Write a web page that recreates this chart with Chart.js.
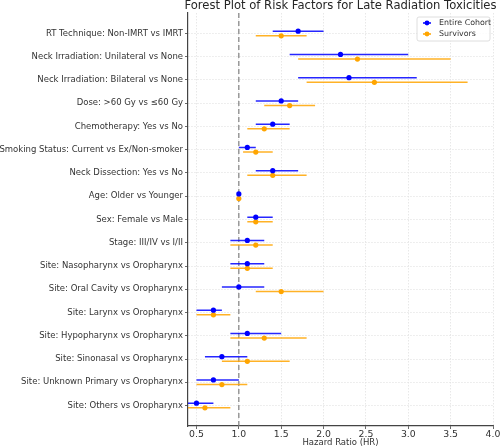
<!DOCTYPE html>
<html>
<head>
<meta charset="utf-8">
<script src="https://cdn.jsdelivr.net/npm/chart.js@4.4.0/dist/chart.umd.min.js"></script>
<style>
	html, body { margin: 0; padding: 0; background: #fff; }
	#wrap { width: 500px; height: 448px; }
</style>
</head>
<body>
<div id="wrap"><canvas id="myChart" width="500" height="448"></canvas></div>
<script>
const categories = [
	'RT Technique: Non-IMRT vs IMRT',
	'Neck Irradiation: Unilateral vs None',
	'Neck Irradiation: Bilateral vs None',
	'Dose: >60 Gy vs ≤60 Gy',
	'Chemotherapy: Yes vs No',
	'Smoking Status: Current vs Ex/Non-smoker',
	'Neck Dissection: Yes vs No',
	'Age: Older vs Younger',
	'Sex: Female vs Male',
	'Stage: III/IV vs I/II',
	'Site: Nasopharynx vs Oropharynx',
	'Site: Oral Cavity vs Oropharynx',
	'Site: Larynx vs Oropharynx',
	'Site: Hypopharynx vs Oropharynx',
	'Site: Sinonasal vs Oropharynx',
	'Site: Unknown Primary vs Oropharynx',
	'Site: Others vs Oropharynx',
];

const cohortHR = [1.7, 2.2, 2.3, 1.5, 1.4, 1.1, 1.4, 1.0, 1.2, 1.1, 1.1, 1.0, 0.7, 1.1, 0.8, 0.7, 0.5];
const cohortLow = [1.4, 1.6, 1.7, 1.2, 1.2, 1.0, 1.2, 0.99, 1.1, 0.9, 0.9, 0.8, 0.5, 0.9, 0.6, 0.5, 0.4];
const cohortHigh = [2.0, 3.0, 3.1, 1.7, 1.6, 1.2, 1.7, 1.01, 1.4, 1.3, 1.3, 1.3, 0.8, 1.5, 1.1, 1.0, 0.7];

const survHR = [1.5, 2.4, 2.6, 1.6, 1.3, 1.2, 1.4, 1.0, 1.2, 1.2, 1.1, 1.5, 0.7, 1.3, 1.1, 0.8, 0.6];
const survLow = [1.2, 1.7, 1.8, 1.3, 1.1, 1.05, 1.1, 0.99, 1.1, 0.9, 0.9, 1.2, 0.5, 0.9, 0.8, 0.5, 0.4];
const survHigh = [1.8, 3.5, 3.7, 1.9, 1.6, 1.4, 1.8, 1.01, 1.4, 1.4, 1.4, 2.0, 0.9, 1.8, 1.6, 1.1, 0.9];

const xTicks = [0.5, 1.0, 1.5, 2.0, 2.5, 3.0, 3.5, 4.0];
const refLine = 1.0;

const BLUE = '#0000ff';
const ORANGE = '#ffa500';
const FONT = 'DejaVu Sans';

const rowShift = 0.1;

const pointsOf = (hr, shift) => hr.map((v, i) => ({ x: v, y: i + shift }));

const ciOf = (low, high, shift) => {
	let data = [];
	low.map((lo, i) => {
		data.push({ x: lo, y: i + shift });
		data.push({ x: high[i], y: i + shift });
		data.push({ x: null, y: null });
	});
	return data;
};

const yMin = -0.88;
const yMax = categories.length - 1 + 0.88;

const titlePlugin = {
	id: 'titleAndLegend',
	afterDraw(chart) {
		const { ctx, chartArea } = chart;
		ctx.save();
		// title over the axes
		ctx.fillStyle = '#262626';
		ctx.font = `11.6px "${FONT}"`;
		ctx.textAlign = 'center';
		ctx.textBaseline = 'middle';
		ctx.fillText('Forest Plot of Risk Factors for Late Radiation Toxicities', (chartArea.left + chartArea.right) / 2, 6);

		// legend box, top right inside the axes
		const bx = 417, by = 17, bw = 73, bh = 24;
		ctx.fillStyle = 'rgba(255,255,255,0.85)';
		ctx.strokeStyle = '#d6d6d6';
		ctx.lineWidth = 0.8;
		ctx.beginPath();
		ctx.roundRect(bx, by, bw, bh, 2);
		ctx.fill();
		ctx.stroke();

		const items = [
			{ label: 'Entire Cohort', color: BLUE },
			{ label: 'Survivors', color: ORANGE },
		];
		items.map((item, i) => {
			const cy = by + 6 + i * 11;
			ctx.strokeStyle = item.color;
			ctx.lineWidth = 1.5;
			ctx.beginPath();
			ctx.moveTo(bx + 6, cy);
			ctx.lineTo(bx + 14, cy);
			ctx.stroke();
			ctx.fillStyle = item.color;
			ctx.beginPath();
			ctx.arc(bx + 10, cy, 2.4, 0, Math.PI * 2);
			ctx.fill();
			ctx.fillStyle = '#333';
			ctx.font = `7.9px "${FONT}"`;
			ctx.textAlign = 'left';
			ctx.textBaseline = 'middle';
			ctx.fillText(item.label, bx + 22, cy);
		});
		ctx.restore();
	},
};

const ctx = document.getElementById('myChart').getContext('2d');
const myChart = new Chart(ctx, {
	type: 'scatter',
	data: {
		datasets: [
			{
				label: 'Entire Cohort',
				data: pointsOf(cohortHR, -rowShift),
				backgroundColor: BLUE,
				borderColor: BLUE,
				pointRadius: 2.6,
				pointBorderWidth: 0,
				order: 0,
			},
			{
				label: 'Survivors',
				data: pointsOf(survHR, rowShift),
				backgroundColor: ORANGE,
				borderColor: ORANGE,
				pointRadius: 2.6,
				pointBorderWidth: 0,
				order: 1,
			},
			{
				label: 'Entire Cohort CI',
				data: ciOf(cohortLow, cohortHigh, -rowShift),
				showLine: true,
				spanGaps: false,
				borderColor: 'rgba(0,0,255,0.85)',
				borderWidth: 1.5,
				pointRadius: 0,
				order: 2,
			},
			{
				label: 'Survivors CI',
				data: ciOf(survLow, survHigh, rowShift),
				showLine: true,
				spanGaps: false,
				borderColor: 'rgba(255,165,0,0.85)',
				borderWidth: 1.5,
				pointRadius: 0,
				order: 3,
			},
			{
				label: 'HR = 1',
				data: [
					{ x: refLine, y: yMin },
					{ x: refLine, y: yMax },
				],
				showLine: true,
				borderColor: '#808080',
				borderWidth: 1.2,
				borderDash: [5, 3],
				pointRadius: 0,
				order: 4,
			},
		],
	},
	options: {
		animation: false,
		responsive: false,
		layout: { padding: { top: 13, left: 0, right: 0, bottom: 0 } },
		plugins: {
			legend: { display: false },
			title: { display: false },
			tooltip: { enabled: false },
		},
		scales: {
			x: {
				type: 'linear',
				min: 0.4,
				max: 4.0,
				afterBuildTicks: (axis) => {
					axis.ticks = xTicks.map((v) => ({ value: v }));
				},
				afterFit: (axis) => {
					axis.height = 22;
					axis.paddingLeft = 0;
					axis.paddingRight = 7;
				},
				ticks: {
					callback: (v) => Number(v).toFixed(1),
					color: '#333',
					font: { family: FONT, size: 9.3 },
					padding: 0,
					maxRotation: 0,
				},
				grid: {
					color: '#e2e2e2',
					lineWidth: 0.8,
					tickLength: 3,
					tickColor: '#444',
					tickWidth: 0.8,
				},
				border: { color: '#444', width: 1.2, dash: [1.5, 1.5] },
				title: {
					display: true,
					text: 'Hazard Ratio (HR)',
					color: '#333',
					font: { family: FONT, size: 8.5 },
					padding: { top: 0, bottom: 0 },
				},
			},
			y: {
				type: 'linear',
				reverse: true,
				min: yMin,
				max: yMax,
				afterBuildTicks: (axis) => {
					axis.ticks = categories.map((c, i) => ({ value: i }));
				},
				afterFit: (axis) => {
					axis.width = 188;
					axis.paddingTop = 0;
					axis.paddingBottom = 0;
				},
				ticks: {
					callback: (v) => categories[v],
					color: '#333',
					font: { family: FONT, size: 8.5 },
					padding: 2,
				},
				grid: {
					color: '#e2e2e2',
					lineWidth: 0.8,
					tickLength: 3,
					tickColor: '#444',
					tickWidth: 0.8,
				},
				border: { color: '#444', width: 1.2, dash: [1.5, 1.5] },
			},
		},
	},
	plugins: [titlePlugin],
});
</script>
</body>
</html>
